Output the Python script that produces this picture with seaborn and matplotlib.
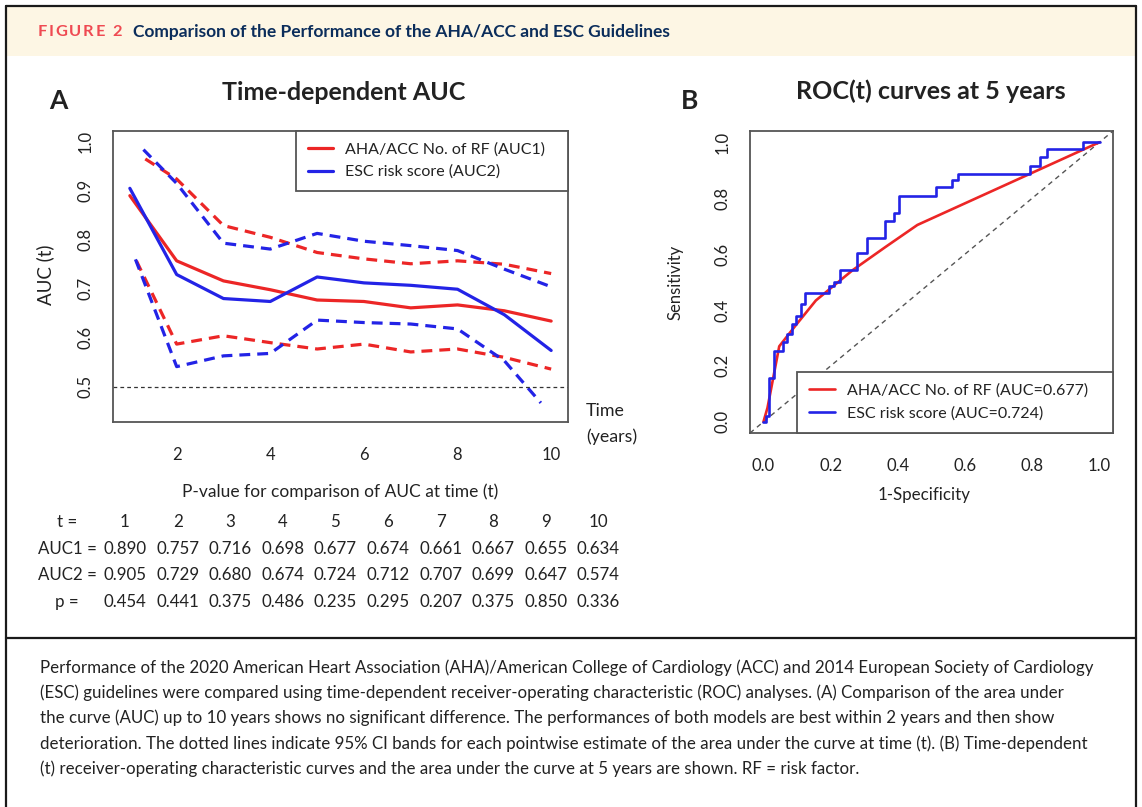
import matplotlib
matplotlib.use("Agg")
import matplotlib.pyplot as plt
import seaborn as sns
from matplotlib.patches import Rectangle
from matplotlib.lines import Line2D

# ---------------- data ----------------
years = [1, 2, 3, 4, 5, 6, 7, 8, 9, 10]
auc1 = [0.890, 0.757, 0.716, 0.698, 0.677, 0.674, 0.661, 0.667, 0.655, 0.634]
auc2 = [0.905, 0.729, 0.680, 0.674, 0.724, 0.712, 0.707, 0.699, 0.647, 0.574]
pvals = [0.454, 0.441, 0.375, 0.486, 0.235, 0.295, 0.207, 0.375, 0.850, 0.336]

# 95% CI bands (as drawn)
auc1_upper_t = [1.33, 2, 3, 4, 5, 6, 7, 8, 9, 10]
auc1_upper = [0.965, 0.924, 0.829, 0.805, 0.774, 0.761, 0.751, 0.757, 0.750, 0.731]
auc2_upper_t = [1.29, 2, 3, 4, 5, 6, 7, 8, 9, 10]
auc2_upper = [0.984, 0.915, 0.793, 0.781, 0.813, 0.797, 0.788, 0.778, 0.740, 0.704]
auc1_lower_t = [1.14, 2, 3, 4, 5, 6, 7, 8, 9, 10]
auc1_lower = [0.757, 0.587, 0.604, 0.590, 0.577, 0.587, 0.571, 0.577, 0.560, 0.536]
auc2_lower_t = [1.12, 2, 3, 4, 5, 6, 7, 8, 9, 9.78]
auc2_lower = [0.760, 0.541, 0.563, 0.568, 0.636, 0.631, 0.628, 0.618, 0.553, 0.467]

# ROC(t) at 5 years
roc_aha_fpr = [0.0, 0.012, 0.047, 0.096, 0.156, 0.265, 0.364, 0.458, 1.0]
roc_aha_tpr = [0.0, 0.050, 0.270, 0.345, 0.434, 0.542, 0.626, 0.704, 1.0]
roc_esc_fpr = [0.0, 0.007, 0.017, 0.032, 0.057, 0.071, 0.086, 0.097, 0.111, 0.125,
               0.195, 0.210, 0.228, 0.277, 0.307, 0.362, 0.387, 0.403, 0.513, 0.560,
               0.580, 0.793, 0.823, 0.845, 0.951, 1.0]
roc_esc_tpr = [0.0, 0.020, 0.158, 0.254, 0.284, 0.314, 0.350, 0.380, 0.422, 0.460,
               0.485, 0.500, 0.542, 0.604, 0.656, 0.719, 0.748, 0.806, 0.840, 0.866,
               0.887, 0.914, 0.947, 0.974, 1.0, 1.0]

label_aha_a = "AHA/ACC No. of RF (AUC1)"
label_esc_a = "ESC risk score (AUC2)"
label_aha_b = "AHA/ACC No. of RF (AUC=0.677)"
label_esc_b = "ESC risk score (AUC=0.724)"
row_labels = ["t =", "AUC1 =", "AUC2 =", "p ="]

caption_lines = [
    "Performance of the 2020 American Heart Association (AHA)/American College of Cardiology (ACC) and 2014 European Society of Cardiology",
    "(ESC) guidelines were compared using time-dependent receiver-operating characteristic (ROC) analyses. (A) Comparison of the area under",
    "the curve (AUC) up to 10 years shows no significant difference. The performances of both models are best within 2 years and then show",
    "deterioration. The dotted lines indicate 95% CI bands for each pointwise estimate of the area under the curve at time (t). (B) Time-dependent",
    "(t) receiver-operating characteristic curves and the area under the curve at 5 years are shown. RF = risk factor.",
]

# ---------------- style ----------------
sns.set_theme(style="white")
FONT = ["Lato", "DejaVu Sans"]
plt.rcParams["font.family"] = FONT
RED = "#ec2626"
BLUE = "#2323e6"
TXT = "#222222"
FRAME = "#555555"

W, H = 1142, 807
fig = plt.figure(figsize=(W / 100, H / 100), dpi=100)
fig.patch.set_facecolor("white")


def fx(x):
    return x / W


def fy(y):
    return 1 - y / H


# header band + frame
fig.add_artist(Rectangle((fx(7), fy(56)), fx(1136) - fx(7), fy(7) - fy(56),
                         transform=fig.transFigure, facecolor="#fdf6e4", edgecolor="none", zorder=0))
for xs, ys in [([6, 1136], [6, 6]), ([6, 6], [6, 807]), ([1136, 1136], [6, 807]), ([6, 1136], [638, 638])]:
    fig.add_artist(Line2D([fx(v) for v in xs], [fy(v) for v in ys], transform=fig.transFigure,
                          color="#1a1a1a", lw=1.6))

# letter-spaced "FIGURE 2"
renderer = fig.canvas.get_renderer()
xpos = 38.0
for ch in "FIGURE 2":
    t = fig.text(fx(xpos), fy(32), ch, color="#ef4a52", fontsize=11.8, weight="bold",
                 va="center", ha="left")
    bb = t.get_window_extent(renderer=renderer)
    xpos += bb.width + 1.7
fig.text(fx(133), fy(32), "Comparison of the Performance of the AHA/ACC and ESC Guidelines",
         color="#0b2d5b", fontsize=12.5, weight="bold", va="center", ha="left")

tick_kw = dict(direction="out", length=6, width=1.0, color=FRAME, labelsize=12,
               labelcolor=TXT)

# ---------------- panel A ----------------
axA = fig.add_axes([fx(113), fy(422), fx(568) - fx(113), fy(131) - fy(422)])
common = dict(ax=axA, estimator=None, sort=False, legend=False)
sns.lineplot(x=years, y=auc1, color=RED, lw=2.3, label=label_aha_a, **common)
sns.lineplot(x=years, y=auc2, color=BLUE, lw=2.3, label=label_esc_a, **common)
dash = (0, (3.4, 2.2))
sns.lineplot(x=auc1_upper_t, y=auc1_upper, color=RED, lw=2.3, linestyle=dash, label="_u1", **common)
sns.lineplot(x=auc2_upper_t, y=auc2_upper, color=BLUE, lw=2.3, linestyle=dash, label="_u2", **common)
sns.lineplot(x=auc1_lower_t, y=auc1_lower, color=RED, lw=2.3, linestyle=dash, label="_l1", **common)
sns.lineplot(x=auc2_lower_t, y=auc2_lower, color=BLUE, lw=2.3, linestyle=dash, label="_l2", **common)
axA.axhline(0.5, color="#333333", lw=0.9, linestyle=(0, (3, 2.5)))
axA.set_xlim(0.64, 10.36)
axA.set_ylim(0.428, 1.022)
axA.set_xticks([2, 4, 6, 8, 10])
axA.set_xticklabels(["2", "4", "6", "8", "10"])
axA.set_yticks([0.5, 0.6, 0.7, 0.8, 0.9, 1.0])
axA.set_yticklabels(["0.5", "0.6", "0.7", "0.8", "0.9", "1.0"], rotation=90, va="center")
axA.tick_params(**tick_kw)
axA.tick_params(axis="x", pad=12)
axA.tick_params(axis="y", pad=8)
axA.set_xlabel("")
axA.set_ylabel("")
for s in axA.spines.values():
    s.set_color(FRAME)
    s.set_linewidth(1.3)
x0A = (296 - 113) / 455
legA = axA.legend(loc="upper left", bbox_to_anchor=(x0A, 0, 1 - x0A, 1), mode="expand",
                  borderaxespad=0, frameon=True, fancybox=False, edgecolor=FRAME, fontsize=11.5,
                  handlelength=1.6, handletextpad=0.75, borderpad=0.72, labelspacing=0.5,
                  framealpha=1)
legA.get_frame().set_linewidth(1.3)
for t in legA.get_texts():
    t.set_color(TXT)

fig.text(fx(45), fy(275), "AUC (t)", rotation=90, ha="center", va="center", fontsize=13.5, color=TXT)
fig.text(fx(344), fy(92), "Time-dependent AUC", ha="center", va="center", fontsize=18,
         weight="bold", color=TXT)
fig.text(fx(58), fy(101), "A", ha="center", va="center", fontsize=19, weight="bold", color=TXT)
fig.text(fx(586), fy(411), "Time", ha="left", va="center", fontsize=12.8, color=TXT)
fig.text(fx(586), fy(437), "(years)", ha="left", va="center", fontsize=12.8, color=TXT)
fig.text(fx(340), fy(492), "P-value for comparison of AUC at time (t)", ha="center", va="center",
         fontsize=12.5, color=TXT)

# table
col_x = [125 + 52.6 * i for i in range(10)]
row_y = [522, 549, 575, 602]
rows = [[str(v) for v in years], ["%.3f" % v for v in auc1], ["%.3f" % v for v in auc2],
        ["%.3f" % v for v in pvals]]
for r, (lab, vals) in enumerate(zip(row_labels, rows)):
    fig.text(fx(67), fy(row_y[r]), lab, ha="center", va="center", fontsize=12.2, color=TXT)
    for c, v in enumerate(vals):
        fig.text(fx(col_x[c]), fy(row_y[r]), v, ha="center", va="center", fontsize=12.2, color=TXT)

# ---------------- panel B ----------------
axB = fig.add_axes([fx(750), fy(433), fx(1113) - fx(750), fy(131) - fy(433)])
axB.axline((0, 0), (1, 1), color="#555555", lw=1.0, linestyle=(0, (3.5, 3)))
sns.lineplot(x=roc_aha_fpr, y=roc_aha_tpr, ax=axB, color=RED, lw=1.9, label=label_aha_b,
             estimator=None, sort=False, legend=False)
sns.lineplot(x=roc_esc_fpr, y=roc_esc_tpr, ax=axB, color=BLUE, lw=1.9, label=label_esc_b,
             estimator=None, sort=False, legend=False, drawstyle="steps-post")
axB.set_xlim(-0.04, 1.04)
axB.set_ylim(-0.04, 1.04)
ticks = [0.0, 0.2, 0.4, 0.6, 0.8, 1.0]
axB.set_xticks(ticks)
axB.set_xticklabels(["%.1f" % t for t in ticks])
axB.set_yticks(ticks)
axB.set_yticklabels(["%.1f" % t for t in ticks], rotation=90, va="center")
axB.tick_params(**tick_kw)
axB.tick_params(axis="x", pad=12)
axB.tick_params(axis="y", pad=8)
axB.set_xlabel("")
axB.set_ylabel("")
for s in axB.spines.values():
    s.set_color(FRAME)
    s.set_linewidth(1.3)
x0B = (797 - 750) / 363
legB = axB.legend(loc="lower left", bbox_to_anchor=(x0B, 0, 1 - x0B, 1), mode="expand",
                  borderaxespad=0, frameon=True, fancybox=False, edgecolor=FRAME, fontsize=11.5,
                  handlelength=1.6, handletextpad=0.75, borderpad=0.75, labelspacing=0.55,
                  framealpha=1)
legB.get_frame().set_linewidth(1.3)
for t in legB.get_texts():
    t.set_color(TXT)

fig.text(fx(676), fy(282), "Sensitivity", rotation=90, ha="center", va="center", fontsize=12, color=TXT)
fig.text(fx(924), fy(495), "1-Specificity", ha="center", va="center", fontsize=12.2, color=TXT)
fig.text(fx(931), fy(91), "ROC(t) curves at 5 years", ha="center", va="center", fontsize=18,
         weight="bold", color=TXT)
fig.text(fx(690), fy(101), "B", ha="center", va="center", fontsize=19, weight="bold", color=TXT)

# ---------------- caption ----------------
cap_y = [668, 693, 718, 744, 769]
for y, line in zip(cap_y, caption_lines):
    fig.text(fx(40), fy(y), line, ha="left", va="center", fontsize=12.2, color="#222222")

fig.savefig("out.png", dpi=100, facecolor="white")
